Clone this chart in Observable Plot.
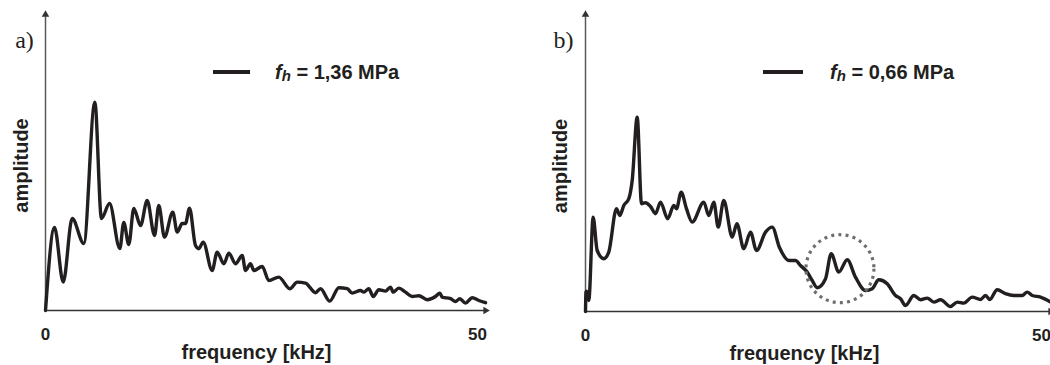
<!DOCTYPE html>
<html>
<head>
<meta charset="utf-8">
<script src="https://cdn.jsdelivr.net/npm/d3@7"></script>
<script src="https://cdn.jsdelivr.net/npm/@observablehq/plot@0.6"></script>
<style>
  html, body { margin: 0; padding: 0; background: #fff; }
  #wrap { display: flex; width: 1050px; height: 365px; overflow: hidden; }
</style>
</head>
<body>
<div id="wrap"></div>
<script>
// ---- data ----
const panelLabels = ["a)", "b)"];
const pressureLabels = ["1,36", "0,66"];
const xTicks = [0, 50];
const xLabel = "frequency [kHz]";
const yLabel = "amplitude";

// panel a: f_h = 1,36 MPa
const freqA = [0,1.04,2.05,3.09,4.43,5.71,6.48,7.41,8.6,9.06,9.64,10.22,11.0,11.77,12.62,13.11,13.77,14.73,15.24,15.82,16.2,16.67,17.36,17.74,18.25,19.29,19.87,20.64,21.22,21.99,22.77,23.15,23.73,24.11,25.08,25.85,27.0,28.28,29.13,30.09,31.25,31.83,32.9,33.95,34.92,35.5,36.46,36.84,37.42,37.93,38.58,39.35,39.93,40.24,40.89,41.67,42.44,43.21,44.18,45.14,45.64,45.91,46.88,47.45,47.95,48.61,49.39,50.16,50.93];
const ampA = [0,41.5,14.2,46,33.5,104.2,46,53.5,31,44,33,51,42.5,55,37.5,52.5,36.7,49.2,39.2,43.5,43.5,51.2,32.5,30.9,34.2,20,29.2,23.4,28.7,23.4,27.5,20,23.4,20,22,15,16.7,10.9,14.2,13.7,8.9,10.9,4.7,11.4,10.9,8.7,10,9.2,10.9,7,10.4,9.7,11.7,9.2,11.2,9.2,7,7.4,5.4,7,8.7,6.7,5.9,4.5,5.9,3.7,6.4,5,3.9];

// panel b: f_h = 0,66 MPa
const freqB = [0,0.05,0.14,0.36,0.84,1.28,2.01,2.55,3.4,3.76,4.2,4.75,5.12,5.67,6.14,6.58,7.13,7.68,8.22,9.02,9.68,9.98,10.49,11.07,11.7,12.97,13.52,14.07,14.55,15.16,16.09,16.6,17.36,18.09,18.75,19.74,20.47,21.27,22.31,23.03,23.57,24.31,24.86,25.41,26.32,26.94,27.77,28.7,29.6,30.7,31.44,32.16,33.08,33.99,34.54,35.09,36.0,36.73,37.47,38.19,38.93,40.02,40.76,41.48,42.4,43.31,43.86,44.33,45.14,46.05,46.96,47.88,48.43,48.98,49.89,50.99];
const ampB = [0,9.7,10.2,5.5,47.2,30.5,26.4,29.7,51.4,48,53,56.4,65.5,97.2,53.9,54.4,52.5,48.9,54.7,46.4,53,51.4,59.7,51.4,44.7,54.7,48,54.7,42.2,55.5,37.2,43.9,31.4,39.7,30.5,39.7,42.2,32,25.5,25.5,23,19.7,15.5,11.9,16.4,28.9,19.7,25.9,17.2,10.5,11.4,15.9,13.9,8,6.4,3,8,5.9,6.7,4.7,5.9,2.5,4.7,4.2,7.2,6,8,6,10.9,8.9,8,8,9.7,8,7.2,4.7];

// highlighted region in panel b (centre of dotted circle)
const highlightFreq = [27.9];
const highlightAmp = [21.4];

// ---- drawing ----
const INK = "#231f20";
const SANS = "'Liberation Sans', Arial, Helvetica, sans-serif";

function legendMark(lineStart, lineLen, textStart, value) {
  return (index, scales, values, dims) => {
    const g = d3.create("svg:g");
    const y = dims.marginTop + 58;
    const x0 = dims.marginLeft;
    g.append("line")
      .attr("x1", x0 + lineStart).attr("x2", x0 + lineStart + lineLen)
      .attr("y1", y).attr("y2", y)
      .attr("stroke", INK).attr("stroke-width", 4);
    const t = g.append("text")
      .attr("x", x0 + textStart).attr("y", y + 6.5)
      .attr("text-anchor", "start")
      .attr("fill", INK)
      .attr("font-family", SANS)
      .attr("font-size", 20).attr("font-weight", "bold");
    t.append("tspan").attr("font-style", "italic").text("f");
    t.append("tspan").attr("font-style", "italic").attr("font-size", 15).attr("dy", 2).text("h");
    t.append("tspan").attr("dy", -2).text(" = " + value + " MPa");
    return g.node();
  };
}

function panel(cfg) {
  const data = cfg.freq.map((f, i) => ({f, a: cfg.amp[i]}));
  const xEnd = d3.max(cfg.freq);
  const yTop = cfg.yMax;
  const marks = [
    // axes
    Plot.ruleX([0], {y1: 0, y2: yTop, stroke: "#58595b", strokeWidth: 1.5}),
    Plot.ruleY([0], {x1: 0, x2: xEnd, stroke: "#333", strokeWidth: 1.5}),
    Plot.dot([0], {x: 0, y: yTop, symbol: "triangle", r: 2.8, fill: "#333", stroke: null}),
    Plot.dot([0], {x: xEnd, y: 0, symbol: "triangle", r: 2.8, fill: "#333", stroke: null, rotate: 90}),
    Plot.axisX({ticks: xTicks, tickSize: 0, tickPadding: 17, label: null, fontSize: 17, fontWeight: "bold", fill: INK}),
    // curve
    Plot.line(data, {x: "f", y: "a", stroke: INK, strokeWidth: 3.4, curve: "monotone-x", strokeLinejoin: "round"}),
    // labels
    Plot.text([xLabel], {frameAnchor: "bottom", lineAnchor: "middle", textAnchor: "middle", dx: cfg.xLabelDx, dy: 42, fontSize: 20, fontWeight: "bold", fill: INK}),
    Plot.text([yLabel], {frameAnchor: "left", textAnchor: "middle", lineAnchor: "middle", rotate: -90, dx: cfg.yLabelDx, dy: 3, fontSize: 20, fontWeight: "bold", fill: INK}),
    Plot.text([cfg.label], {frameAnchor: "top-left", textAnchor: "middle", lineAnchor: "middle", dx: cfg.labelDx, dy: 26, fontSize: 24, fontWeight: "normal",
      fontFamily: "'Liberation Serif', 'Times New Roman', serif", fill: INK}),
    legendMark(cfg.legLineStart, cfg.legLineLen, cfg.legTextStart, cfg.pressure)
  ];
  if (cfg.highlight) {
    const hl = cfg.highlight.f.map((f, i) => ({f, a: cfg.highlight.a[i]}));
    marks.push(Plot.dot(hl, {x: "f", y: "a", r: 34, stroke: "#6d6e71", strokeWidth: 3.2, strokeDasharray: "3 4.2", fill: "none"}));
  }
  return Plot.plot({
    width: cfg.width,
    height: 365,
    marginLeft: cfg.marginLeft,
    marginRight: cfg.marginRight,
    marginTop: 14,
    marginBottom: cfg.marginBottom,
    x: {domain: [0, 50], axis: null},
    y: {domain: [0, yTop], axis: null},
    style: {fontFamily: SANS, color: INK, background: "#fff", overflow: "visible"},
    marks
  });
}

const wrap = document.getElementById("wrap");
wrap.append(panel({
  freq: freqA, amp: ampA, label: panelLabels[0], pressure: pressureLabels[0],
  width: 520, marginLeft: 45, marginRight: 43, marginBottom: 55, yMax: 148,
  xLabelDx: -5, yLabelDx: -24, labelDx: -21,
  legLineStart: 168, legLineLen: 37, legTextStart: 230
}));
wrap.append(panel({
  freq: freqB, amp: ampB, label: panelLabels[1], pressure: pressureLabels[1],
  width: 530, marginLeft: 65, marginRight: 9, marginBottom: 54, yMax: 148.5,
  xLabelDx: -9, yLabelDx: -25, labelDx: -22,
  legLineStart: 178, legLineLen: 40, legTextStart: 245,
  highlight: {f: highlightFreq, a: highlightAmp}
}));
</script>
</body>
</html>
